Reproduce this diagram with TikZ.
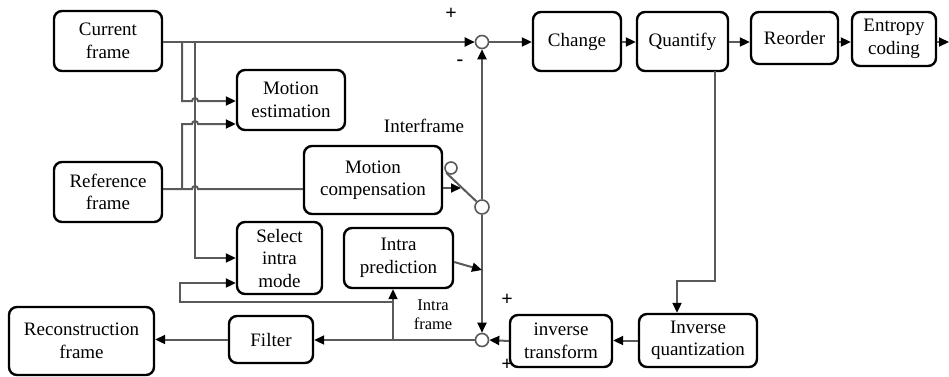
\documentclass[tikz,border=0pt]{standalone}
\usepackage{fontspec}
\setmainfont{Liberation Serif}
\usetikzlibrary{arrows.meta,calc}
\definecolor{lncol}{RGB}{90,90,90}
\tikzset{
  box/.style={draw=black, line width=2.4pt, rounded corners=8pt, align=center,
    inner sep=0pt, font=\fontsize{19}{22.5}\selectfont},
  junc/.style={circle, draw=lncol, line width=1.6pt, fill=white, minimum size=13pt, inner sep=0pt},
  ln/.style={draw=lncol, line width=2pt},
  arr/.style={-{Triangle[length=10pt,width=9pt,color=black]}},
  lbl/.style={inner sep=0pt, font=\fontsize{19}{22.5}\selectfont},
  sml/.style={inner sep=0pt, align=center, font=\fontsize{16.5}{19}\selectfont},
  sgn/.style={inner sep=0pt, font=\fontsize{20}{20}\selectfont\bfseries}
}
\begin{document}
\begin{tikzpicture}[x=1pt,y=-1pt]
\useasboundingbox (0,0) rectangle (949,376);
% boxes
\node[box, minimum width=108pt, minimum height=60pt] (cur) at (108,41) {Current\\frame};
\node[box, minimum width=108pt, minimum height=60pt] (me) at (291,100) {Motion\\estimation};
\node[box, minimum width=108pt, minimum height=60pt] (ref) at (108,192) {Reference\\frame};
\node[box, minimum width=138pt, minimum height=68pt] (mc) at (373,180) {Motion\\compensation};
\node[box, minimum width=85pt, minimum height=72pt] (sim) at (279.5,258) {Select\\intra\\mode};
\node[box, minimum width=109pt, minimum height=60pt] (ip) at (398.5,258) {Intra\\prediction};
\node[box, minimum width=145pt, minimum height=68pt] (rec) at (81.5,341) {Reconstruction\\frame};
\node[box, minimum width=84pt, minimum height=47pt] (filt) at (271,339.5) {Filter};
\node[box, minimum width=102pt, minimum height=52pt] (it) at (561,341) {inverse\\transform};
\node[box, minimum width=118pt, minimum height=53pt] (iq) at (698,340.5) {Inverse\\quantization};
\node[box, minimum width=88pt, minimum height=59pt] (ch) at (577,41.5) {Change};
\node[box, minimum width=91pt, minimum height=59pt] (qu) at (682.5,41.5) {Quantify};
\node[box, minimum width=87pt, minimum height=52pt] (ro) at (794.5,38) {Reorder};
\node[box, minimum width=84pt, minimum height=54pt] (ec) at (894,39) {Entropy\\coding};
% junctions
\node[junc] (s1) at (482,42) {};
\node[junc, minimum size=14pt] (sw) at (482,207) {};
\node[junc, minimum size=12pt] (swt) at (451,168) {};
\node[junc] (s2) at (482,340) {};
% labels
\node[sgn] (p1) at (451,14) {+};
\node[sgn] (p2) at (460,63) {-};
\node[lbl] (ilab) at (424,126) {Interframe};
\node[sml] (flab) at (433,315) {Intra\\frame};
\node[sgn] (p3) at (507,300) {+};
\node[sgn] (p4) at (507,365) {+};
% coordinates
\coordinate (j1) at (182,42);
\coordinate (j2) at (195,42);
\coordinate (r0) at ($(ref.east)+(0,-3)$);
\coordinate (r1) at (182,189);
\coordinate (mct) at (461,188);
\coordinate (v1) at (482,270);
\coordinate (b1) at (393,340);
\coordinate (b2) at (393,302);
\coordinate (b3) at (180,283);
\coordinate (q0) at (715,71);
\coordinate (q1) at (715,281);
\coordinate (q2) at (677,281);
\coordinate (out) at (949,42);
% connectors
\draw[ln,arr] (cur.east |- s1) -- (s1.west);
\draw[ln,arr] (j1) -- (182,101) -- (192,101) arc[start angle=180,end angle=0,radius=3pt] -- ($(me.west)+(0,1)$);
\draw[ln,arr] (j2) |- (sim.west);
\draw[ln] (r0) -- (192,189) arc[start angle=180,end angle=0,radius=3pt] -- (mc.west |- r0);
\draw[ln,arr] (r1) -- (182,124) -- (192,124) arc[start angle=180,end angle=0,radius=3pt] -- ($(me.west)+(0,24)$);
\draw[ln,arr] ($(mc.east)+(0,8)$) -- (mct);
\draw[ln] (swt.225) -- (sw.135);
\draw[ln,arr] (sw) -- (s1);
\draw[ln,arr] (sw) -- (s2);
\draw[ln,arr] ($(ip.east)+(0,4)$) -- (v1);
\draw[ln,arr] (iq.west) -- (it.east |- iq.west);
\draw[ln,arr] (it.west) -- (s2.east);
\draw[ln,arr] (s2.west) -- (filt.east |- s2);
\draw[ln,arr] (filt.west) -- (rec.east |- filt.west);
\draw[ln,arr] (b1) -- (b1 |- ip.south);
\draw[ln,arr] (b2) -| (b3) -- (b3 -| sim.west);
\draw[ln,arr] (q0) -- (q1) -| (q2 |- iq.north);
\draw[ln,arr] (s1.east) -- (ch.west |- s1);
\draw[ln,arr] (ch.east |- s1) -- (qu.west |- s1);
\draw[ln,arr] (qu.east |- s1) -- (ro.west |- s1);
\draw[ln,arr] (ro.east |- s1) -- (ec.west |- s1);
\draw[ln,arr] (ec.east |- s1) -- (out);
\end{tikzpicture}
\end{document}
